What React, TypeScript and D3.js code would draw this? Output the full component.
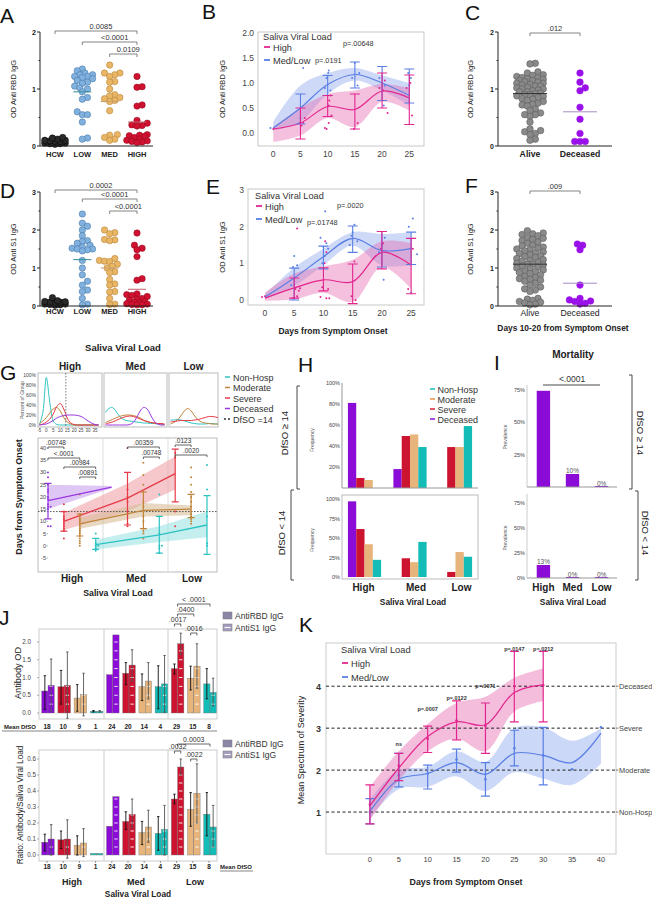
import React from "react";
import * as d3 from "d3";

const FONT = "'Liberation Sans', Arial, Helvetica, sans-serif";

// ---------- A / D : OD by saliva viral load group
const groups = ["HCW", "LOW", "MED", "HIGH"];
const rbdByGroup = [
  [0.03, 0.04, 0.04, 0.05, 0.05, 0.06, 0.06, 0.07, 0.07, 0.08, 0.08, 0.09, 0.1, 0.1, 0.12, 0.14, 0.15],
  [1.35, 1.32, 1.28, 1.25, 1.25, 1.22, 1.22, 1.2, 1.18, 1.15, 1.12, 1.1, 1.05, 1.02, 1.0, 0.95, 0.85, 0.82, 0.6, 0.55, 0.55, 0.42, 0.14, 0.12],
  [1.42, 1.28, 1.28, 1.25, 1.22, 1.13, 1.12, 1.0, 0.9, 0.88, 0.85, 0.83, 0.8, 0.78, 0.62, 0.2, 0.19, 0.15, 0.12, 0.1],
  [1.22, 1.04, 1.03, 0.72, 0.7, 0.45, 0.4, 0.37, 0.36, 0.35, 0.2, 0.19, 0.18, 0.17, 0.15, 0.12, 0.1, 0.09, 0.08, 0.07, 0.06],
];
const rbdMedians = [null, 0.95, 0.78, 0.42];
const s1ByGroup = [
  [0.02, 0.03, 0.04, 0.05, 0.05, 0.06, 0.07, 0.08, 0.08, 0.09, 0.1, 0.1, 0.11, 0.12, 0.14, 0.22],
  [2.42, 2.18, 2.1, 2.0, 1.85, 1.72, 1.7, 1.65, 1.6, 1.55, 1.52, 1.5, 1.5, 1.48, 1.45, 1.2, 1.0, 0.82, 0.65, 0.55, 0.42, 0.38, 0.2, 0.05, 0.03],
  [2.0, 1.93, 1.9, 1.75, 1.74, 1.72, 1.25, 1.2, 1.18, 1.17, 1.1, 1.05, 1.0, 0.9, 0.88, 0.7, 0.58, 0.55, 0.38, 0.37, 0.2, 0.05, 0.04],
  [1.92, 1.6, 1.52, 1.48, 1.3, 0.72, 0.68, 0.32, 0.3, 0.28, 0.25, 0.2, 0.18, 0.15, 0.12, 0.1, 0.08, 0.06, 0.05, 0.04, 0.03, 0.03],
];
const s1Medians = [null, 1.22, 1.0, 0.44];
const pRbdGroup = ["0.0085", "<0.0001", "0.0109"];
const pS1Group = ["0.0002", "<0.0001", "<0.0001"];

// ---------- C / F : alive vs deceased
const outcome = ["Alive", "Deceased"];
const rbdAlive = [1.45, 1.44, 1.3, 1.28, 1.25, 1.24, 1.22, 1.2, 1.2, 1.18, 1.17, 1.15, 1.15, 1.13, 1.12, 1.1, 1.1, 1.08, 1.07, 1.05, 1.05, 1.03, 1.02, 1.0, 1.0, 0.98, 0.97, 0.95, 0.95, 0.93, 0.92, 0.9, 0.9, 0.88, 0.87, 0.85, 0.83, 0.82, 0.8, 0.78, 0.75, 0.73, 0.72, 0.7, 0.65, 0.62, 0.58, 0.55, 0.55, 0.52, 0.42, 0.3, 0.27, 0.25, 0.22, 0.2, 0.12, 0.1];
const rbdDeceased = [1.28, 1.12, 1.02, 0.97, 0.68, 0.47, 0.22, 0.08, 0.08, 0.08];
const rbdOutcomeMed = [0.92, 0.6];
const s1Alive = [1.98, 1.92, 1.9, 1.88, 1.85, 1.8, 1.78, 1.75, 1.72, 1.68, 1.65, 1.6, 1.58, 1.55, 1.52, 1.5, 1.48, 1.45, 1.42, 1.4, 1.38, 1.35, 1.32, 1.3, 1.28, 1.25, 1.22, 1.2, 1.18, 1.15, 1.12, 1.1, 1.1, 1.08, 1.05, 1.02, 1.0, 0.98, 0.95, 0.92, 0.9, 0.88, 0.85, 0.82, 0.78, 0.75, 0.72, 0.7, 0.68, 0.65, 0.6, 0.55, 0.5, 0.45, 0.42, 0.38, 0.2, 0.18, 0.15, 0.12, 0.1, 0.08, 0.05, 0.03];
const s1Deceased = [1.63, 1.6, 1.48, 0.55, 0.2, 0.16, 0.13, 0.12, 0.07, 0.05];
const s1OutcomeMed = [1.1, 0.6];

// ---------- B / E : time course by viral load
const tcDays = [0, 5, 10, 15, 20, 25];
const bHighLine = [0.08, 0.2, 0.53, 0.47, 0.84, 0.7];
const bHighHi = [0.12, 0.5, 0.78, 0.85, 0.98, 0.9];
const bHighLo = [-0.18, -0.05, 0.3, 0.12, 0.62, 0.45];
const bHighErrLo = [NaN, -0.12, 0.33, 0.08, 0.5, 0.17];
const bHighErrHi = [NaN, 0.5, 0.75, 0.78, 1.2, 1.16];
const bLowLine = [0.1, 0.5, 0.97, 1.17, 1.0, 0.75];
const bLowHi = [0.22, 0.95, 1.2, 1.3, 1.15, 1.0];
const bLowLo = [0.05, 0.22, 0.78, 1.05, 0.85, 0.55];
const bLowErrLo = [NaN, 0.18, 0.75, 0.9, 0.65, 0.6];
const bLowErrHi = [NaN, 0.78, 1.15, 1.42, 1.33, 1.28];
const bHighPts: [number, number][] = [[0, 0.08], [5.2, 0.15], [5.5, 0.2], [5.8, 0.3], [9.5, 0.1], [9.8, 0.08], [10.2, 0.55], [10.3, 0.65], [10.5, 0.75], [10.7, 0.35], [10.2, 0.2], [14.8, 0.08], [15.5, 0.2], [20.2, 0.85], [20.5, 1.05], [21, 0.4], [19.5, 0.9], [24.5, 0.9], [25.5, 0.35], [25.2, 1.0]];
const bLowPts: [number, number][] = [[-0.5, 0.1], [5.5, 1.3], [5, 0.3], [4.8, 0.2], [9.5, 0.9], [9.8, 1.1], [10.2, 1.25], [10.5, 0.85], [10.1, 1.2], [14.5, 1.1], [15, 1.4], [15.5, 0.95], [15.8, 1.2], [19.5, 1.1], [20.3, 0.55], [20.5, 0.95], [24.8, 1.2], [25.3, 1.1], [25, 0.95]];

const eHighLine = [0.05, 0.33, 0.55, 0.5, 1.3, 0.95];
const eHighHi = [0.2, 0.72, 0.92, 1.1, 1.6, 1.55];
const eHighLo = [-0.02, 0.02, 0.2, -0.05, 0.9, 0.3];
const eHighErrLo = [NaN, 0.05, 0.25, -0.1, 0.85, 0.17];
const eHighErrHi = [NaN, 0.6, 0.88, 0.98, 1.87, 1.68];
const eLowLine = [0.08, 0.6, 1.18, 1.68, 1.35, 1.4];
const eLowHi = [0.15, 0.88, 1.4, 1.85, 1.8, 1.85];
const eLowLo = [0.02, 0.38, 0.95, 1.48, 0.95, 0.95];
const eLowErrLo = [NaN, 0.0, 0.85, 1.3, 0.9, 0.97];
const eLowErrHi = [NaN, 0.87, 1.47, 2.02, 1.87, 1.85];
const eHighPts: [number, number][] = [[0, 0.1], [-0.5, 0.08], [5.5, 1.95], [5.2, 0.3], [5.8, 0.25], [5.5, 0.1], [4.8, 0.05], [6, 0.32], [10.3, 1.6], [10.5, 1.3], [10.2, 1.0], [9.8, 0.35], [10.8, 0.3], [10.5, 0.05], [9.5, 0.08], [11, 0.05], [15.3, 1.05], [14.8, 0.1], [15.5, 0.0], [20.2, 1.55], [19.8, 1.4], [24.5, 0.3], [25.3, 1.4]];
const eLowPts: [number, number][] = [[5, 1.2], [4.8, 0.9], [5.5, 0.95], [4.5, 0.4], [9.5, 1.7], [10, 1.45], [10.5, 1.55], [10.2, 1.2], [9.8, 1.0], [10.8, 1.4], [10.3, 2.42], [14.5, 1.5], [15, 1.85], [15.3, 2.05], [15.8, 1.6], [14.8, 1.75], [20.3, 0.55], [19.5, 1.3], [20, 1.5], [20.5, 1.7], [24.6, 2.0], [25.3, 2.22], [26, 1.25], [25, 0.2]];

// ---------- G : DfSO by severity and viral load
const sevCats = ["Non-Hosp", "Moderate", "Severe", "Deceased"];
const vlGroups = ["High", "Med", "Low"];
const slotKeys = ["High|Deceased", "High|Severe", "High|Moderate", "High|Non-Hosp", "Med|Deceased", "Med|Severe", "Med|Moderate", "Med|Non-Hosp", "Low|Severe", "Low|Moderate", "Low|Non-Hosp"];
const densDays = [-5, -2.5, 0, 2.5, 5, 7.5, 10, 12.5, 15, 17.5, 20, 22.5, 25, 27.5, 30, 32.5, 35, 37.5];
const densHigh = [
  [0, 25, 95, 45, 8, 1, 0, 0, 0, 0, 0, 0, 0, 0, 0, 0, 0, 0],
  [3, 8, 15, 24, 32, 35, 28, 15, 6, 2, 0, 0, 0, 0, 0, 0, 0, 0],
  [0, 2, 6, 12, 22, 37, 43, 32, 14, 4, 1, 0, 0, 0, 0, 0, 0, 0],
  [0, 1, 2, 5, 9, 14, 17, 19, 20, 20, 20, 19, 17, 13, 8, 4, 1, 0],
];
const densMed = [
  [25, 33, 35, 28, 18, 12, 9, 8, 7, 6, 5, 4, 4, 3, 3, 2, 2, 1],
  [5, 8, 11, 14, 17, 19, 20, 20, 19, 17, 14, 10, 7, 5, 4, 3, 2, 1],
  [2, 4, 6, 9, 12, 15, 17, 18, 17, 15, 12, 9, 7, 5, 4, 3, 3, 2],
  [0, 0, 0, 0, 0, 0, 0, 1, 5, 15, 28, 35, 32, 20, 8, 2, 0, 0],
];
const densLow = [
  [10, 10, 11, 10, 8, 6, 4, 3, 2, 2, 2, 3, 3, 2, 2, 2, 1, 1],
  [2, 5, 10, 18, 28, 33, 28, 18, 10, 6, 4, 3, 2, 2, 2, 2, 2, 2],
  [6, 7, 8, 9, 9, 9, 9, 10, 11, 13, 15, 17, 17, 16, 14, 12, 10, 8],
  [] as number[],
];
// per severity: slot, mean, error low/high, band low/high
const gFit = {
  Deceased: { slots: ["High|Deceased", "Med|Deceased"], mean: [18.5, 24], lo: [15, 23.5], hi: [25, 24.5], errLo: [11, NaN], errHi: [25.5, NaN] },
  Severe: { slots: ["High|Severe", "Med|Severe", "Low|Severe"], mean: [10, 19.5, 29.5], lo: [6.5, 14, 23], hi: [13.5, 25.5, 36.5], errLo: [6, 8.5, 18], errHi: [14, 30, 39.5] },
  Moderate: { slots: ["High|Moderate", "Med|Moderate", "Low|Moderate"], mean: [9, 14.5, 15], lo: [7, 12, 12.5], hi: [11.5, 17.5, 16.5], errLo: [4, 7, 11.5], errHi: [13, 22, 21] },
  "Non-Hosp": { slots: ["High|Non-Hosp", "Med|Non-Hosp", "Low|Non-Hosp"], mean: [0.5, 4.5, 8.5], lo: [-1.5, 1.5, 3.5], hi: [2.5, 8, 14], errLo: [-1.5, -3, -3.5], errHi: [3, 12, 20.5] },
};
const gPoints: Record<string, number[]> = {
  "High|Deceased": [30, 28, 25, 23, 22, 20, 19, 17, 16, 15, 8, 8, 16],
  "High|Severe": [17, 14, 12, 11, 10, 9, 8, 7, 6, 3],
  "High|Moderate": [21, 13, 12, 11, 10, 9, 8, 7, 6, 5, 4, 3, 2, 1, 0],
  "High|Non-Hosp": [5, 1, 0, -1, -2, 0],
  "Med|Severe": [40, 23, 20, 18, 14, 13, 9, 8],
  "Med|Moderate": [34, 29, 25, 22, 18, 16, 14, 12, 10, 7, 6, 5, 3],
  "Med|Non-Hosp": [21, 12, 5, 0, 0, -1, -3],
  "Low|Severe": [38, 36, 14, 8],
  "Low|Moderate": [32, 28, 25, 22, 20, 18, 16, 14, 13, 12, 11, 10, 9],
  "Low|Non-Hosp": [33, 23, 12, 1, 0],
};
const gBrackets = [
  { a: "High|Deceased", b: "High|Severe", t: ".00748" },
  { a: "High|Deceased", b: "High|Moderate", t: "<.0001" },
  { a: "High|Severe", b: "High|Non-Hosp", t: ".00984" },
  { a: "High|Moderate", b: "High|Non-Hosp", t: ".00891" },
  { a: "Med|Severe", b: "Med|Non-Hosp", t: ".00359" },
  { a: "Med|Moderate", b: "Med|Non-Hosp", t: ".00748" },
  { a: "Low|Severe", b: "Low|Moderate", t: ".0123" },
  { a: "Low|Severe", b: "Low|Non-Hosp", t: ".0020" },
];
const gBracketY = [447, 458, 467, 477, 447, 457, 445, 455];

// ---------- H : frequency of outcome (%), order Deceased, Severe, Moderate, Non-Hosp
const hCats = ["Deceased", "Severe", "Moderate", "Non-Hosp"];
const hAbove14 = [[81, 18, 0], [9.5, 49.5, 39], [7.6, 51, 39], [0, 39, 59]];
const hBelow14 = [[97, 0, 0], [61.5, 24, 6.5], [42, 19, 32], [22, 45, 26]];

// ---------- I : mortality prevalence (%)
const iAbove14 = [74, 10, 0];
const iBelow14 = [13, 0, 0];

// ---------- J : antibody OD and ratio per severity slot
const jDfso = [18, 10, 9, 1, 24, 20, 14, 4, 29, 15, 8];
const jRbd = [0.62, 0.74, 0.42, 0.05, 1.08, 1.12, 0.74, 0.74, 1.25, 0.98, 0.82];
const jRbdLo = [0.1, 0.25, 0.05, 0.03, NaN, 0.8, 0.35, 0.12, 1.1, 0.65, 0.4];
const jRbdHi = [1.05, 1.2, 0.8, 0.07, NaN, 1.42, 1.1, 1.33, 1.38, 1.32, 1.25];
const jS1 = [0.78, 0.78, 0.52, 0.05, 2.2, 1.35, 0.9, 0.82, 1.95, 1.32, 0.58];
const jS1Lo = [0.05, -0.15, -0.08, 0.03, NaN, 0.9, 0.4, 0.02, 1.65, 0.7, 0.2];
const jS1Hi = [1.52, 1.72, 1.12, 0.07, NaN, 1.78, 1.42, 1.62, 2.25, 1.95, 0.98];
const rRbd = [0.08, 0.095, 0.06, 0.01, 0.18, 0.21, 0.14, 0.135, 0.35, 0.285, 0.255];
const rRbdLo = [0.025, 0.04, 0.0, NaN, NaN, 0.16, 0.065, 0.03, 0.32, 0.18, 0.12];
const rRbdHi = [0.13, 0.15, 0.12, NaN, NaN, 0.27, 0.21, 0.24, 0.38, 0.39, 0.39];
const rS1 = [0.1, 0.1, 0.075, 0.01, 0.365, 0.255, 0.175, 0.16, 0.55, 0.385, 0.175];
const rS1Lo = [0.0, -0.02, -0.01, NaN, NaN, 0.17, 0.08, 0.0, 0.5, 0.2, 0.05];
const rS1Hi = [0.19, 0.22, 0.165, NaN, NaN, 0.35, 0.28, 0.31, 0.6, 0.57, 0.31];
const jTopBrackets = [
  { a: "Low|Severe", b: "Low|Non-Hosp", t: "< .0001" },
  { a: "Low|Severe", b: "Low|Moderate", t: ".0400" },
];
const jBotBrackets = [{ a: "Low|Severe", b: "Low|Non-Hosp", t: "0.0003" }];
const jTopPair = [{ s: "Low|Severe", t: ".0017" }, { s: "Low|Moderate", t: ".0016" }];
const jBotPair = [{ s: "Low|Severe", t: ".0032" }, { s: "Low|Moderate", t: ".0022" }];

// ---------- K : severity over time
const kHighDays = [0, 5, 10, 15, 20, 25, 30];
const kHighLine = [1.15, 2.05, 2.8, 3.15, 3.08, 3.85, 4.03];
const kHighHi = [1.6, 2.45, 3.1, 3.6, 3.75, 4.2, 4.42];
const kHighLo = [0.8, 1.75, 2.45, 2.75, 2.45, 3.4, 3.65];
const kHighMean = [1.18, 2.1, 2.75, 3.18, 3.05, 4.0, 4.02];
const kHighErrLo = [0.72, 1.75, 2.42, 2.72, 2.4, 3.15, 3.15];
const kHighErrHi = [1.65, 2.4, 3.05, 3.65, 3.6, 4.83, 4.83];
const kLowDays = [0, 5, 10, 15, 20, 25, 30, 35, 40];
const kLowLine = [1.02, 1.78, 1.92, 2.18, 1.9, 2.4, 2.35, 2.18, 2.88];
const kLowHi = [1.3, 2.0, 2.08, 2.45, 2.2, 3.0, 3.02, 2.7, 3.0];
const kLowLo = [0.85, 1.55, 1.6, 1.85, 1.5, 1.95, 1.8, 1.65, 2.15];
const kLowMean = [1.0, 1.88, 1.92, 2.25, 1.78, 2.52, 2.35, 2.02, 3.02];
const kLowErrLo = [0.72, 1.6, 1.55, 1.95, 1.38, 2.1, 1.65, NaN, NaN];
const kLowErrHi = [1.32, 2.4, 2.12, 2.5, 2.18, 2.95, 3.02, NaN, NaN];
const kPvals = ["ns", "p=.0007", "p=.0122", "p=.0071", "p=.0147", "p=.0212"];
const kPDays = [5, 10, 15, 20, 25, 30];
const kPLevel = [2.58, 3.4, 3.68, 3.95, 4.85, 4.85];
const severityLevels = ["Non-Hosp", "Moderate", "Severe", "Deceased"];

const HIGH = "#e3268f";
const LOWC = "#5a7fe4";
const sevColorG: Record<string, string> = { "Non-Hosp": "#2ec3c3", Moderate: "#c0853a", Severe: "#e63a48", Deceased: "#9a37e0" };
const sevBandG: Record<string, string> = { "Non-Hosp": "#9fe3e3", Moderate: "#d9bd98", Severe: "#f0a3aa", Deceased: "#caa2ef" };
const sevColorH: Record<string, string> = { Deceased: "#8a0cd6", Severe: "#cc1431", Moderate: "#e7b57c", "Non-Hosp": "#13bcb6" };

// beeswarm offsets: keep dots apart by minD but never wider than maxW
function swarm(vals: number[], y: (v: number) => number, r: number, minD: number, maxW: number) {
  const idx = vals.map((_, i) => i).sort((a, b) => vals[a] - vals[b]);
  const placed: [number, number][] = [];
  const dx = new Array(vals.length).fill(0);
  for (const i of idx) {
    const cy = y(vals[i]);
    let best = 0;
    let bestD = -1;
    for (let k = 0; k < 200; k++) {
      const off = k === 0 ? 0 : (k % 2 ? 1 : -1) * Math.ceil(k / 2) * r * 0.8;
      if (Math.abs(off) > maxW) break;
      const d = placed.reduce((m, [px, py]) => Math.min(m, Math.hypot(px - off, py - cy)), Infinity);
      if (d >= minD) { best = off; break; }
      if (d > bestD) { bestD = d; best = off; }
    }
    dx[i] = best;
    placed.push([best, cy]);
  }
  return dx;
}

function ErrBar({ x, a, b, w, color, sw = 1 }: any) {
  if (isNaN(a) || isNaN(b)) return null;
  return <path d={`M${x - w},${a}H${x + w}M${x},${a}V${b}M${x - w},${b}H${x + w}`} stroke={color} strokeWidth={sw} fill="none" />;
}

function VText({ x, y, size, children, weight, rot = -90, fill = "#222" }: any) {
  return <text transform={`translate(${x},${y}) rotate(${rot})`} textAnchor="middle" fontSize={size} fontWeight={weight} fill={fill}>{children}</text>;
}

function Bracket({ x1, x2, y, t, size = 7.5, dy = 3, shift = 0, color = "#777" }: any) {
  return (
    <g>
      <path d={`M${x1},${y + dy}V${y}H${x2}V${y + dy}`} stroke={color} fill="none" strokeWidth={0.9} />
      <text x={(x1 + x2) / 2 + shift} y={y - 2.3} textAnchor="middle" fontSize={size} fill="#333">{t}</text>
    </g>
  );
}

function DotPanel(p: any) {
  const y = d3.scaleLinear().domain([0, p.yMax]).range([p.bottom, p.top]);
  const x = d3.scalePoint<string>().domain(p.cats).range(p.xr);
  return (
    <g>
      {p.cats.map((c: string, i: number) => {
        const dx = swarm(p.vals[i], y, p.r, p.minD, p.maxW);
        return (
          <g key={c}>
            {p.vals[i].map((v: number, j: number) => (
              <circle key={j} cx={x(c)! + dx[j]} cy={y(v)} r={p.r} fill={p.fills[i]} stroke={p.strokes[i]} strokeWidth={0.5} />
            ))}
            {p.meds[i] != null && <line x1={x(c)! - p.medW} x2={x(c)! + p.medW} y1={y(p.meds[i])} y2={y(p.meds[i])} stroke={p.medColors[i]} strokeWidth={1} />}
            <text x={x(c)} y={p.catY} textAnchor="middle" fontSize={p.catSize} fontWeight={p.catBold ? "bold" : "normal"} fill="#222">{c}</text>
          </g>
        );
      })}
      <line x1={p.ax} x2={p.ax} y1={p.bottom} y2={p.top} stroke="#222" />
      <line x1={p.ax} x2={p.axEnd} y1={p.bottom} y2={p.bottom} stroke="#222" />
      {d3.range(0, p.yMax + 0.01, 0.5).map((t: number) => (
        <line key={t} x1={p.ax - (t % 1 === 0 ? 3 : 1.5)} x2={p.ax} y1={y(t)} y2={y(t)} stroke="#222" />
      ))}
      {d3.range(0, p.yMax + 1).map((t: number) => (
        <text key={t} x={p.ax - 4} y={y(t) + 2.5} textAnchor="end" fontSize={7} fontWeight="bold" fill="#222">{t}</text>
      ))}
      <VText x={p.labelX} y={(p.top + p.bottom) / 2} size={7.5}>{p.yLabel}</VText>
      {p.brackets.map((b: any, i: number) => (
        <Bracket key={i} x1={x(b.a)} x2={x(b.b)} y={b.y} t={b.t} shift={p.shift} />
      ))}
    </g>
  );
}

function TimePanel(p: any) {
  const { x, y } = p;
  const [fx0, fx1, fy0, fy1] = p.frame;
  const line = (vals: number[]) =>
    d3.line<number>().x((_, i) => x(tcDays[i])).y((d) => y(d)).curve(d3.curveCatmullRom.alpha(0.5))(vals) || "";
  const area = (lo: number[], hi: number[]) =>
    d3.area<number>().x((_, i) => x(tcDays[i])).y0((d) => y(d)).y1((_, i) => y(hi[i])).curve(d3.curveCatmullRom.alpha(0.5))(lo) || "";
  const [lx, ly] = p.leg;
  return (
    <g>
      <rect x={fx0} y={fy0} width={fx1 - fx0} height={fy1 - fy0} fill="none" stroke="#c8c8c8" />
      <path d={area(p.low.lo, p.low.hi)} fill="#7d9ced" opacity={0.38} />
      <path d={area(p.high.lo, p.high.hi)} fill="#e468ad" opacity={0.42} />
      {p.lowPts.map((d: number[], i: number) => <circle key={"l" + i} cx={x(d[0])} cy={y(d[1])} r={1} fill={LOWC} />)}
      {p.highPts.map((d: number[], i: number) => <circle key={"h" + i} cx={x(d[0])} cy={y(d[1])} r={1} fill={HIGH} />)}
      <path d={line(p.low.line)} stroke={LOWC} strokeWidth={1.2} fill="none" />
      <path d={line(p.high.line)} stroke={HIGH} strokeWidth={1.2} fill="none" />
      {tcDays.map((d, i) => (
        <g key={d}>
          <ErrBar x={x(d)} a={y(p.low.errLo[i])} b={y(p.low.errHi[i])} w={5} color={LOWC} sw={1.1} />
          <ErrBar x={x(d)} a={y(p.high.errLo[i])} b={y(p.high.errHi[i])} w={5} color={HIGH} sw={1.1} />
        </g>
      ))}
      {p.yTicks.map((t: number) => (
        <text key={t} x={fx0 - 4} y={y(t) + 3} textAnchor="end" fontSize={8.5} fill="#444">{p.yFmt(t)}</text>
      ))}
      {tcDays.map((d) => (
        <text key={d} x={x(d)} y={p.xLabY} textAnchor="middle" fontSize={8.5} fill="#444">{d}</text>
      ))}
      <VText x={p.labelX} y={(fy0 + fy1) / 2} size={7.5}>{p.yLabel}</VText>
      <text x={lx} y={ly} fontSize={9.2} fill="#333">Saliva Viral Load</text>
      <line x1={lx + 1} x2={lx + 7} y1={ly + 7} y2={ly + 7} stroke={HIGH} strokeWidth={1.8} />
      <text x={lx + 10} y={ly + 10.5} fontSize={9.2} fill="#333">High</text>
      <line x1={lx + 1} x2={lx + 7} y1={ly + 20} y2={ly + 20} stroke={LOWC} strokeWidth={1.8} />
      <text x={lx + 10} y={ly + 23.5} fontSize={9.2} fill="#333">Med/Low</text>
      {p.pText.map((t: any, i: number) => (
        <text key={i} x={t[0]} y={t[1]} fontSize={7.3} fill="#333">{t[2]}</text>
      ))}
    </g>
  );
}

function PanelG() {
  const xs = d3.scalePoint<string>().domain(slotKeys).range([48, 207]);
  const y = d3.scaleLinear().domain([-5, 40]).range([558, 448]);
  const dy = d3.scaleLinear().domain([0, 100]).range([425, 375]);
  const boxes = [
    { g: "High", x0: 38, x1: 102, d: densHigh },
    { g: "Med", x0: 104, x1: 167, d: densMed },
    { g: "Low", x0: 169, x1: 218, d: densLow },
  ];
  const order = ["Deceased", "Severe", "Moderate", "Non-Hosp"];
  return (
    <g>
      <text x={123} y={351} textAnchor="middle" fontSize={9.5} fontWeight="bold" fill="#222">Saliva Viral Load</text>
      <defs>
        {boxes.map((b) => (
          <clipPath id={"clip" + b.g} key={b.g}><rect x={b.x0} y={373} width={b.x1 - b.x0} height={54} /></clipPath>
        ))}
      </defs>
      {boxes.map((b) => {
        const dx = d3.scaleLinear().domain([-6, 40]).range([b.x0, b.x0 + 64]);
        const ln = d3.line<number>().x((_, i) => dx(densDays[i])).y((v) => dy(v)).curve(d3.curveCatmullRom.alpha(0.5));
        return (
          <g key={b.g}>
            <text x={(b.x0 + b.x1) / 2} y={370} textAnchor="middle" fontSize={10} fontWeight="bold" fill="#222">{b.g}</text>
            <rect x={b.x0} y={373} width={b.x1 - b.x0} height={54} fill="#fff" stroke="#bbb" />
            <g clipPath={`url(#clip${b.g})`}>
              {b.d.map((vals, i) => vals.length ? <path key={i} d={ln(vals) || ""} fill="none" stroke={sevColorG[sevCats[i]]} strokeWidth={1} /> : null)}
              {b.g === "High" && <line x1={dx(14)} x2={dx(14)} y1={373} y2={427} stroke="#555" strokeDasharray="1.5,1.5" strokeWidth={0.8} />}
            </g>
            {b.g === "High" && [-5, 0, 5, 10, 15, 20, 25, 30, 35].map((t) => (
              <text key={t} x={dx(t)} y={432} textAnchor="middle" fontSize={4.5} fill="#444">{t}</text>
            ))}
          </g>
        );
      })}
      {[0, 20, 40, 60, 80, 100].map((t) => (
        <text key={t} x={36} y={dy(t) + 1.8} textAnchor="end" fontSize={5} fill="#444">{t}%</text>
      ))}
      <VText x={24} y={400} size={5} fill="#555">Percent of Group</VText>
      {sevCats.map((c, i) => (
        <g key={c}>
          <line x1={225} x2={230} y1={377 + i * 10.5} y2={377 + i * 10.5} stroke={sevColorG[c]} strokeWidth={1.5} />
          <text x={233} y={380.5 + i * 10.5} fontSize={9} fill="#333">{c}</text>
        </g>
      ))}
      <line x1={224} x2={230} y1={419} y2={419} stroke="#333" strokeWidth={1.3} strokeDasharray="2,2" />
      <text x={233} y={422.5} fontSize={9} fill="#333">DfSO =14</text>
      <rect x={38} y={438} width={179} height={134} fill="#fff" stroke="#bbb" />
      <line x1={103} x2={103} y1={438} y2={572} stroke="#ddd" />
      <line x1={168} x2={168} y1={438} y2={572} stroke="#ddd" />
      {order.map((c) => {
        const f = (gFit as any)[c];
        const ar = d3.area<number>().x((_, i) => xs(f.slots[i])!).y0((v) => y(v)).y1((_, i) => y(f.hi[i]));
        return <path key={c} d={ar(f.lo) || ""} fill={sevBandG[c]} opacity={0.6} />;
      })}
      <line x1={38} x2={217} y1={y(14)} y2={y(14)} stroke="#444" strokeDasharray="1.5,1.5" strokeWidth={0.9} />
      {slotKeys.map((k) => {
        const pts = gPoints[k] || [];
        const dx = swarm(pts, y, 1.1, 2.1, 5);
        const c = sevColorG[k.split("|")[1]];
        return pts.map((v, i) => <circle key={k + i} cx={xs(k)! + dx[i]} cy={y(v)} r={1} fill={c} />);
      })}
      {order.map((c) => {
        const f = (gFit as any)[c];
        const ln = d3.line<number>().x((_, i) => xs(f.slots[i])!).y((v) => y(v));
        return (
          <g key={c}>
            <path d={ln(f.mean) || ""} stroke={sevColorG[c]} strokeWidth={1.3} fill="none" />
            {f.slots.map((s: string, i: number) => (
              <ErrBar key={s} x={xs(s)} a={y(f.errLo[i])} b={y(f.errHi[i])} w={3.5} color={sevColorG[c]} sw={1.2} />
            ))}
          </g>
        );
      })}
      {d3.range(-5, 41, 5).map((t) => (
        <g key={t}>
          <text x={46} y={y(t) + 2} textAnchor="end" fontSize={5.5} fill="#444">{t}</text>
          <line x1={46.5} x2={48} y1={y(t)} y2={y(t)} stroke="#666" strokeWidth={0.5} />
        </g>
      ))}
      {gBrackets.map((b, i) => (
        <Bracket key={i} x1={xs(b.a)} x2={xs(b.b)} y={gBracketY[i]} t={b.t} size={6.5} dy={2} color="#555" />
      ))}
      <VText x={22} y={497} size={9} weight="bold">Days from Symptom Onset</VText>
      {[["High", 72], ["Med", 136], ["Low", 192]].map(([t, x]) => (
        <text key={t} x={x} y={582} textAnchor="middle" fontSize={10} fontWeight="bold" fill="#222">{t}</text>
      ))}
      <text x={118} y={596} textAnchor="middle" fontSize={8.7} fontWeight="bold" fill="#222">Saliva Viral Load</text>
    </g>
  );
}

function PanelH() {
  const gx = d3.scaleBand<string>().domain(vlGroups).range([342, 478]).paddingInner(0.27).paddingOuter(0.13);
  const sx = d3.scaleBand<string>().domain(hCats).range([0, gx.bandwidth()]);
  const yT = d3.scaleLinear().domain([0, 100]).range([488, 383]);
  const yB = d3.scaleLinear().domain([0, 100]).range([577, 499]);
  const bars = (data: number[][], y: any) =>
    hCats.map((c, ci) =>
      vlGroups.map((g, gi) =>
        data[ci][gi] > 0 ? (
          <rect key={c + g} x={gx(g)! + sx(c)!} y={y(data[ci][gi])} width={sx.bandwidth()} height={y(0) - y(data[ci][gi])} fill={sevColorH[c]} />
        ) : null
      )
    );
  const legOrder = ["Non-Hosp", "Moderate", "Severe", "Deceased"];
  const legColor: Record<string, string> = { "Non-Hosp": "#14bdb7", Moderate: "#e8944a", Severe: "#d42030", Deceased: "#8a10d8" };
  return (
    <g>
      {bars(hAbove14, yT)}
      <line x1={342} x2={342} y1={383} y2={488} stroke="#999" />
      <line x1={342} x2={478} y1={488} y2={488} stroke="#999" />
      {[20, 40, 60, 80, 100].map((t) => (
        <text key={t} x={340} y={yT(t) + 2} textAnchor="end" fontSize={5.5} fill="#444">{t}%</text>
      ))}
      <rect x={342} y={495} width={136} height={84} fill="none" stroke="#bbb" />
      {bars(hBelow14, yB)}
      {[0, 25, 50, 75, 100].map((t) => (
        <text key={t} x={340} y={yB(t) + 2} textAnchor="end" fontSize={5.5} fill="#444">{t}%</text>
      ))}
      <VText x={314} y={440} size={5} fill="#555">Frequency</VText>
      <VText x={314} y={540} size={5} fill="#555">Frequency</VText>
      <path d="M300,386H297V489H300" stroke="#333" fill="none" strokeWidth={0.9} />
      <path d="M294,490H291V580H294" stroke="#333" fill="none" strokeWidth={0.9} />
      <VText x={288} y={433} size={9.5}>DfSO ≥ 14</VText>
      <VText x={285} y={533} size={9.5}>DfSO &lt; 14</VText>
      {legOrder.map((c, i) => (
        <g key={c}>
          <line x1={430} x2={435} y1={389 + i * 10} y2={389 + i * 10} stroke={legColor[c]} strokeWidth={1.5} />
          <text x={437.5} y={392.5 + i * 10} fontSize={9} fill="#333">{c}</text>
        </g>
      ))}
      {vlGroups.map((g) => (
        <text key={g} x={gx(g)! + gx.bandwidth() / 2 + (g === "High" ? -1 : 6)} y={591} textAnchor="middle" fontSize={10} fontWeight="bold" fill="#222">{g}</text>
      ))}
      <text x={413} y={605} textAnchor="middle" fontSize={8.3} fontWeight="bold" fill="#222">Saliva Viral Load</text>
    </g>
  );
}

function PanelI() {
  const gx = d3.scaleBand<string>().domain(vlGroups).range([528, 617]).paddingInner(0.54).paddingOuter(0.3);
  const yT = d3.scaleLinear().domain([0, 75]).range([487, 389.5]);
  const yB = d3.scaleLinear().domain([0, 75]).range([578, 503]);
  const bars = (data: number[], y: any) =>
    vlGroups.map((g, i) => (
      <g key={g}>
        <rect x={gx(g)} y={y(data[i]) - (data[i] === 0 ? 1 : 0)} width={gx.bandwidth()} height={Math.max(1, y(0) - y(data[i]))} fill="#8a0cd6" />
        {data[i] < 50 && <text x={gx(g)! + gx.bandwidth() / 2} y={y(data[i]) - 1.5} textAnchor="middle" fontSize={6.5} fill="#555">{data[i]}%</text>}
      </g>
    ));
  return (
    <g>
      <text x={573} y={358} textAnchor="middle" fontSize={10} fontWeight="bold" fill="#222">Mortality</text>
      <line x1={543} x2={600} y1={385} y2={385} stroke="#333" strokeWidth={0.9} />
      <text x={572} y={382} textAnchor="middle" fontSize={8.5} fill="#333">&lt;.0001</text>
      {bars(iAbove14, yT)}
      <line x1={527} x2={527} y1={385} y2={487} stroke="#ccc" />
      <line x1={527} x2={617} y1={487} y2={487} stroke="#999" />
      {[25, 50, 75].map((t) => (
        <text key={t} x={525} y={yT(t) + 2} textAnchor="end" fontSize={5.5} fill="#444">{t}%</text>
      ))}
      {bars(iBelow14, yB)}
      <line x1={527} x2={527} y1={494} y2={578} stroke="#ccc" />
      <line x1={527} x2={617} y1={578} y2={578} stroke="#999" />
      {[0, 25, 50, 75].map((t) => (
        <text key={t} x={525} y={yB(t) + 2} textAnchor="end" fontSize={5.5} fill="#444">{t}%</text>
      ))}
      <VText x={507} y={437} size={5} fill="#555">Prevalence</VText>
      <VText x={507} y={538} size={5} fill="#555">Prevalence</VText>
      <path d="M629,375H632V489H629" stroke="#333" fill="none" strokeWidth={0.9} />
      <path d="M635,491H638V580H635" stroke="#333" fill="none" strokeWidth={0.9} />
      <VText x={637} y={433} size={9.5} rot={90}>DfSO ≥ 14</VText>
      <VText x={642} y={533} size={9.5} rot={90}>DfSO &lt; 14</VText>
      {vlGroups.map((g) => (
        <text key={g} x={gx(g)! + gx.bandwidth() / 2} y={591} textAnchor="middle" fontSize={10} fontWeight="bold" fill="#222">{g}</text>
      ))}
      <text x={573} y={605} textAnchor="middle" fontSize={8.3} fontWeight="bold" fill="#222">Saliva Viral Load</text>
    </g>
  );
}

function BarPanel(p: any) {
  const xs = d3.scalePoint<string>().domain(slotKeys).range([47, 209]);
  const y = d3.scaleLinear().domain([0, p.yMax]).range([p.y0, p.y1]);
  const w = 6.3;
  return (
    <g>
      <rect x={39} y={p.frameTop} width={178} height={p.frameBottom - p.frameTop} fill="none" stroke="#ccc" />
      <line x1={104} x2={104} y1={p.frameTop} y2={p.frameBottom} stroke="#ccc" />
      <line x1={168} x2={168} y1={p.frameTop} y2={p.frameBottom} stroke="#ccc" />
      {slotKeys.map((k, i) => {
        const c = sevColorH[k.split("|")[1]];
        const cx = xs(k)! + 1;
        const stripes = d3.range(p.stripe, p.s1[i], p.stripe);
        return (
          <g key={k}>
            <rect x={cx - w} y={y(p.rbd[i])} width={w} height={y(0) - y(p.rbd[i])} fill={c} stroke="#777" strokeWidth={0.4} />
            <rect x={cx} y={y(p.s1[i])} width={w} height={y(0) - y(p.s1[i])} fill={c} stroke="#777" strokeWidth={0.4} />
            {stripes.map((s: number) => (
              <line key={s} x1={cx + 1.5} x2={cx + w - 1.5} y1={y(s)} y2={y(s)} stroke="#fff" strokeWidth={0.9} />
            ))}
            <ErrBar x={cx - w / 2} a={y(p.rbdLo[i])} b={y(p.rbdHi[i])} w={1.2} color="#111" sw={0.9} />
            <ErrBar x={cx + w / 2} a={y(p.s1Lo[i])} b={y(p.s1Hi[i])} w={1.2} color="#555" sw={0.9} />
            <text x={xs(k)} y={p.dfsoY} textAnchor="middle" fontSize={6.5} fontWeight="bold" fill="#222">{jDfso[i]}</text>
            {p.dfsoTicks && <line x1={xs(k)} x2={xs(k)} y1={p.frameBottom} y2={p.frameBottom + 2} stroke="#555" strokeWidth={0.6} />}
          </g>
        );
      })}
      {p.ticks.map((t: number) => (
        <g key={t}>
          <text x={p.tickX} y={y(t) + 2} textAnchor="end" fontSize={6.3} fill="#444">{p.fmt(t)}</text>
          <line x1={37} x2={39} y1={y(t)} y2={y(t)} stroke="#666" strokeWidth={0.5} />
        </g>
      ))}
      {p.brackets.map((b: any, i: number) => (
        <Bracket key={i} x1={xs(b.a)! + 1} x2={xs(b.b)! + 1} y={p.bracketY[i]} t={b.t} size={7} dy={2.5} color="#555" />
      ))}
      {p.pairs.map((b: any, i: number) => (
        <Bracket key={"p" + i} x1={xs(b.s)! + 1 - w / 2} x2={xs(b.s)! + 1 + w / 2} y={p.pairY[i]} t={b.t} size={7} dy={2.5} color="#555" />
      ))}
      <VText x={p.labelX} y={p.labelY} size={p.labelSize}>{p.yLabel}</VText>
      <rect x={223} y={p.legY} width={9} height={7} fill="#8e86a8" stroke="#777" strokeWidth={0.5} />
      <text x={235} y={p.legY + 7} fontSize={8.5} fill="#333">AntiRBD IgG</text>
      <rect x={223} y={p.legY + p.legGap} width={9} height={7} fill="#a59fbd" stroke="#777" strokeWidth={0.5} />
      <line x1={224.5} x2={230.5} y1={p.legY + p.legGap + 3.5} y2={p.legY + p.legGap + 3.5} stroke="#fff" strokeWidth={1} />
      <text x={235} y={p.legY + p.legGap + 7} fontSize={8.5} fill="#333">AntiS1 IgG</text>
    </g>
  );
}

function PanelK() {
  const x = d3.scaleLinear().domain([-7.6, 42.6]).range([326, 616]);
  const y = d3.scaleLinear().domain([0, 5.03]).range([854, 643]);
  const line = (days: number[], vals: number[]) =>
    d3.line<number>().x((_, i) => x(days[i])).y((v) => y(v)).curve(d3.curveCatmullRom.alpha(0.5))(vals) || "";
  const area = (days: number[], lo: number[], hi: number[]) =>
    d3.area<number>().x((_, i) => x(days[i])).y0((v) => y(v)).y1((_, i) => y(hi[i])).curve(d3.curveCatmullRom.alpha(0.5))(lo) || "";
  return (
    <g>
      <rect x={326} y={643} width={290} height={211} fill="none" stroke="#ccc" />
      <path d={area(kLowDays, kLowLo, kLowHi)} fill="#8ea8ee" opacity={0.45} />
      <path d={area(kHighDays, kHighLo, kHighHi)} fill="#e46cb0" opacity={0.45} />
      {severityLevels.map((s, i) => (
        <g key={s}>
          <line x1={326} x2={616} y1={y(i + 1)} y2={y(i + 1)} stroke="#222" strokeDasharray="3,2.5" strokeWidth={1} />
          <line x1={616} x2={618.5} y1={y(i + 1)} y2={y(i + 1)} stroke="#333" strokeWidth={0.6} />
          <text x={619} y={y(i + 1) + 2.7} fontSize={7.4} fill="#444">{s}</text>
          <text x={321} y={y(i + 1) + 3.5} textAnchor="end" fontSize={9} fontWeight="bold" fill="#333">{i + 1}</text>
        </g>
      ))}
      <path d={line(kLowDays, kLowLine)} stroke={LOWC} strokeWidth={1.2} fill="none" />
      <path d={line(kHighDays, kHighLine)} stroke={HIGH} strokeWidth={1.2} fill="none" />
      {kLowDays.map((d, i) => (
        <g key={"l" + d}>
          <ErrBar x={x(d)} a={y(kLowErrLo[i])} b={y(kLowErrHi[i])} w={4.5} color={LOWC} sw={1.2} />
          <circle cx={x(d)} cy={y(kLowMean[i])} r={1.3} fill={LOWC} />
        </g>
      ))}
      {kHighDays.map((d, i) => (
        <g key={"h" + d}>
          <ErrBar x={x(d)} a={y(kHighErrLo[i])} b={y(kHighErrHi[i])} w={4.5} color={HIGH} sw={1.2} />
          <circle cx={x(d)} cy={y(kHighMean[i])} r={1.3} fill={HIGH} />
        </g>
      ))}
      {kPvals.map((t, i) => (
        <text key={t} x={x(kPDays[i])} y={y(kPLevel[i])} textAnchor="middle" fontSize={5.5} fontWeight="bold" fill="#333">{t}</text>
      ))}
      {d3.range(0, 41, 5).map((t) => (
        <text key={t} x={x(t)} y={862} textAnchor="middle" fontSize={7.5} fill="#444">{t}</text>
      ))}
      <text x={341} y={652.5} fontSize={9.3} fill="#333">Saliva Viral Load</text>
      <line x1={342} x2={348} y1={663} y2={663} stroke={HIGH} strokeWidth={1.8} />
      <text x={351} y={666.5} fontSize={9.3} fill="#333">High</text>
      <line x1={342} x2={348} y1={677} y2={677} stroke={LOWC} strokeWidth={1.8} />
      <text x={351} y={680.5} fontSize={9.3} fill="#333">Med/Low</text>
      <VText x={304} y={750} size={9}>Mean Spectrum of Severity</VText>
      <text x={466} y={885} textAnchor="middle" fontSize={8.8} fontWeight="bold" fill="#222">Days from Symptom Onset</text>
    </g>
  );
}

export default function App() {
  const bx = d3.scaleLinear().domain([-2.8, 27.7]).range([258, 424]);
  const by = d3.scaleLinear().domain([0, 2]).range([133, 33]);
  const ex = d3.scaleLinear().domain([-2.9, 27.2]).range([248, 424]);
  const ey = d3.scaleLinear().domain([0, 3]).range([300, 190]);
  const groupFill = ["#2a2a2a", "#80b1df", "#e9b665", "#d0112f"];
  const groupStroke = ["#000", "#40709f", "#b07d35", "#8a0b20"];
  const groupMed = ["#000", "#2f8c97", "#c9a071", "#c45d6b"];
  const letters: [string, number, number][] = [["A", 0, 23], ["B", 202, 19], ["C", 465, 20], ["D", 0, 198], ["E", 206, 194], ["F", 465, 193], ["G", 0, 380], ["H", 298, 372], ["I", 494, 370], ["J", -1, 625], ["K", 299, 632]];
  return (
    <svg width={652} height={899} style={{ position: "absolute", left: 0, top: 0 }} fontFamily={FONT}>
      <rect width={652} height={899} fill="#fff" />
      {letters.map(([t, x, y]) => (
        <text key={t} x={x} y={y} fontSize={21} fill="#111">{t}</text>
      ))}
      <DotPanel cats={groups} vals={rbdByGroup} meds={rbdMedians} fills={groupFill} strokes={groupStroke} medColors={groupMed}
        ax={40} axEnd={153} top={32} bottom={146} yMax={2} xr={[55, 137]} r={3.2} minD={4.6} maxW={11} medW={9} catY={157} catSize={7.5} catBold
        yLabel="OD Anti RBD IgG" labelX={16} shift={5}
        brackets={[{ a: "HCW", b: "HIGH", y: 31, t: pRbdGroup[0] }, { a: "LOW", b: "HIGH", y: 42, t: pRbdGroup[1] }, { a: "MED", b: "HIGH", y: 54, t: pRbdGroup[2] }]} />
      <DotPanel cats={groups} vals={s1ByGroup} meds={s1Medians} fills={groupFill} strokes={groupStroke} medColors={groupMed}
        ax={40} axEnd={153} top={192} bottom={306} yMax={3} xr={[55, 137]} r={3.2} minD={4.6} maxW={11} medW={9} catY={314} catSize={7.5} catBold
        yLabel="OD Anti S1 IgG" labelX={16} shift={5}
        brackets={[{ a: "HCW", b: "HIGH", y: 190, t: pS1Group[0] }, { a: "LOW", b: "HIGH", y: 199, t: pS1Group[1] }, { a: "MED", b: "HIGH", y: 211, t: pS1Group[2] }]} />
      <DotPanel cats={outcome} vals={[rbdAlive, rbdDeceased]} meds={rbdOutcomeMed} fills={["#8a8a8a", "#9a10e8"]} strokes={["#555", "#9a10e8"]} medColors={["#333", "#a88ac4"]}
        ax={498} axEnd={612} top={32} bottom={146} yMax={2} xr={[530, 580]} r={3.3} minD={5} maxW={15} medW={17} catY={157} catSize={8.7} catBold
        yLabel="OD Anti RBD IgG" labelX={473} shift={0}
        brackets={[{ a: "Alive", b: "Deceased", y: 33, t: ".012" }]} />
      <DotPanel cats={outcome} vals={[s1Alive, s1Deceased]} meds={s1OutcomeMed} fills={["#8a8a8a", "#9a10e8"]} strokes={["#555", "#9a10e8"]} medColors={["#333", "#a88ac4"]}
        ax={498} axEnd={612} top={192} bottom={306} yMax={3} xr={[530, 580]} r={3.3} minD={5} maxW={15} medW={17} catY={316} catSize={8.7} catBold={false}
        yLabel="OD Anti S1 IgG" labelX={473} shift={0}
        brackets={[{ a: "Alive", b: "Deceased", y: 191, t: ".009" }]} />
      <text x={563} y={331} textAnchor="middle" fontSize={8.4} fontWeight="bold" fill="#222">Days 10-20 from Symptom Onset</text>
      <TimePanel x={bx} y={by} frame={[258, 424, 32, 146]} yTicks={[0, 0.5, 1, 1.5, 2]} yFmt={(t: number) => t.toFixed(1)} xLabY={157}
        high={{ line: bHighLine, lo: bHighLo, hi: bHighHi, errLo: bHighErrLo, errHi: bHighErrHi }}
        low={{ line: bLowLine, lo: bLowLo, hi: bLowHi, errLo: bLowErrLo, errHi: bLowErrHi }}
        highPts={bHighPts} lowPts={bLowPts} yLabel="OD Anti RBD IgG" labelX={225} leg={[263, 40]}
        pText={[[343, 46, "p=.00648"], [315, 63, "p=.0191"]]} />
      <TimePanel x={ex} y={ey} frame={[248, 424, 189, 305]} yTicks={[0, 1, 2, 3]} yFmt={(t: number) => String(t)} xLabY={316}
        high={{ line: eHighLine, lo: eHighLo, hi: eHighHi, errLo: eHighErrLo, errHi: eHighErrHi }}
        low={{ line: eLowLine, lo: eLowLo, hi: eLowHi, errLo: eLowErrLo, errHi: eLowErrHi }}
        highPts={eHighPts} lowPts={eLowPts} yLabel="OD Anti S1 IgG" labelX={225} leg={[255, 199]}
        pText={[[337, 208, "p=.0020"], [307, 225, "p=.01748"]]} />
      <text x={333} y={334} textAnchor="middle" fontSize={8.5} fontWeight="bold" fill="#222">Days from Symptom Onset</text>
      <PanelG />
      <PanelH />
      <PanelI />
      <BarPanel rbd={jRbd} rbdLo={jRbdLo} rbdHi={jRbdHi} s1={jS1} s1Lo={jS1Lo} s1Hi={jS1Hi} yMax={2} y0={713} y1={642}
        frameTop={629} frameBottom={719} stripe={0.25} ticks={[0, 0.5, 1, 1.5, 2]} fmt={(t: number) => t.toFixed(1)} tickX={31}
        dfsoY={729} brackets={jTopBrackets} bracketY={[604, 614]} pairs={jTopPair} pairY={[624, 633]}
        yLabel="Antibody OD" labelX={21} labelY={673} labelSize={9.2} legY={612} legGap={12} />
      <text x={4} y={729} fontSize={6} fontWeight="bold" fill="#222">Mean DfSO</text>
      <line x1={2} x2={217} y1={731} y2={731} stroke="#333" strokeWidth={0.6} />
      <BarPanel rbd={rRbd} rbdLo={rRbdLo} rbdHi={rRbdHi} s1={rS1} s1Lo={rS1Lo} s1Hi={rS1Hi} yMax={0.6} y0={855} y1={759}
        frameTop={750} frameBottom={861} stripe={0.05} ticks={[0, 0.1, 0.2, 0.3, 0.4, 0.5, 0.6]} fmt={(t: number) => t.toFixed(1)} tickX={36}
        dfsoY={869} dfsoTicks brackets={jBotBrackets} bracketY={[744]} pairs={jBotPair} pairY={[751, 759]}
        yLabel="Ratio: Antibody/Saliva Viral Load" labelX={23} labelY={805} labelSize={8.2} legY={740} legGap={11} />
      <text x={220} y={869} fontSize={6} fontWeight="bold" fill="#222">Mean DfSO</text>
      <line x1={220} x2={253} y1={871} y2={871} stroke="#333" strokeWidth={0.6} />
      {[["High", 72], ["Med", 136], ["Low", 195]].map(([t, x]) => (
        <text key={t as string} x={x as number} y={885} textAnchor="middle" fontSize={9} fontWeight="bold" fill="#222">{t}</text>
      ))}
      <text x={138} y={897} textAnchor="middle" fontSize={8.3} fontWeight="bold" fill="#222">Saliva Viral Load</text>
      <PanelK />
    </svg>
  );
}
